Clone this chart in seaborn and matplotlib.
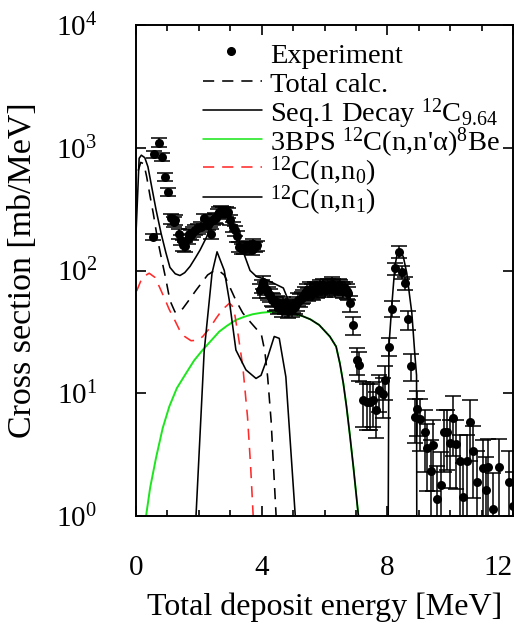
import matplotlib
matplotlib.use("Agg")
import matplotlib.pyplot as plt
import seaborn as sns
import numpy as np
from matplotlib.lines import Line2D
from matplotlib.ticker import NullLocator

# ---------------- measured spectrum (energy in MeV, cross section in mb/MeV) ----------------
exp_e = [
    0.53, 0.58, 0.72, 0.83, 0.93, 1.03,
    1.11, 1.20, 1.24, 1.36, 1.43, 1.49, 1.57, 1.64, 1.70, 1.76,
    1.80, 1.88, 1.96, 2.07, 2.17, 2.28, 2.35, 2.39, 2.44, 2.50,
    2.55, 2.60, 2.65, 2.72, 2.78, 2.85, 2.92, 3.00, 3.08, 3.16,
    3.22, 3.29, 3.37, 3.45, 3.53, 3.61, 3.68, 3.74, 3.79, 3.85,
    3.95, 4.00, 4.05, 4.10, 4.16, 4.21, 4.26, 4.32, 4.37, 4.42,
    4.48, 4.53, 4.58, 4.64, 4.69, 4.74, 4.80, 4.85, 4.90, 4.95,
    5.00, 5.06, 5.11, 5.16, 5.22, 5.27, 5.33, 5.38, 5.43, 5.48,
    5.54, 5.59, 5.64, 5.70, 5.75, 5.80, 5.86, 5.91, 5.96, 6.02,
    6.07, 6.12, 6.18, 6.23, 6.28, 6.34, 6.39, 6.45, 6.50, 6.55,
    6.60, 6.66, 6.71, 6.76, 6.81, 6.90,
    7.02, 7.11, 7.22, 7.34, 7.45, 7.55, 7.64, 7.74, 7.85, 7.92,
    8.06, 8.14, 8.23, 8.38, 8.48, 8.57, 8.67, 8.74,
    8.88, 8.96, 9.05, 9.20, 9.27, 9.38, 9.46, 9.57, 9.70, 9.80,
    9.90, 10.00, 10.10, 10.20, 10.31, 10.42, 10.53, 10.63, 10.74, 10.84,
    11.03, 11.14, 11.22, 11.35, 11.56, 11.88, 11.99,
]
exp_xs = [
    188, 884, 1100, 846, 581, 438,
    266, 250, 258, 198, 177, 161, 157, 180, 200, 195,
    207, 215, 220, 227, 266, 235, 250, 200, 258, 270,
    266, 290, 300, 305, 300, 300, 297, 260, 227, 212,
    190, 156, 150, 151, 160, 157, 148, 165, 156, 160,
    69, 75, 81, 72, 69, 66, 63, 58, 57, 54,
    55, 50, 52, 48, 54, 50, 51, 47, 49, 48,
    52, 50, 54, 58, 57, 60, 62, 66, 69, 64,
    71, 68, 65, 72, 69, 70, 74, 72, 76, 70,
    72, 75, 74, 78, 76, 70, 72, 76, 74, 72,
    69, 72, 68, 65, 54, 36,
    18.7, 17, 8.8, 8.5, 8.5, 8.8, 7.3, 10.6, 9.8, 12.8,
    24, 49, 104, 142, 97, 79, 40, 16.7,
    6.4, 7.5, 6.2, 4.8, 3.6, 2.34, 3.8, 1.37, 1.8, 4.8,
    4.85, 3.9, 6.3, 3.86, 2.8, 1.42, 2.8, 5.8, 3.4, 1.88,
    2.45, 1.63, 2.5, 1.15, 2.5, 1.88, 1.2,
]
exp_err = [
    12, 60, 90, 60, 40, 30,
    25, 24, 25, 19, 17, 16, 15, 17, 19, 19,
    20, 21, 21, 22, 25, 22, 24, 19, 25, 26,
    25, 28, 29, 29, 29, 29, 28, 25, 22, 20,
    18, 15, 14, 14, 15, 15, 14, 16, 15, 15,
    9, 9, 10, 9, 9, 8, 8, 7, 7, 7,
    7, 6, 7, 6, 7, 6, 6, 6, 6, 6,
    7, 6, 7, 7, 7, 7, 8, 8, 9, 8,
    9, 9, 8, 9, 9, 9, 9, 9, 10, 9,
    9, 10, 9, 10, 10, 9, 9, 10, 9, 9,
    9, 9, 9, 8, 8, 6,
    4.5, 4.5, 3.5, 3.5, 3.5, 3.5, 3, 3.5, 3.5, 4,
    4, 7, 12, 15, 11, 10, 7, 4,
    2.5, 3, 2.8, 2.5, 2, 1.8, 2.2, 1.2, 1.5, 2.5,
    2.5, 2.2, 3.2, 2.2, 1.8, 1.3, 1.8, 3, 2, 1.5,
    1.7, 1.4, 1.7, 1.1, 1.7, 1.5, 1.1,
]

# ---------------- calculated components ----------------
# total of the calculation (dashed black)
total_e = [0.07, 0.15, 0.25, 0.34, 0.45, 0.55, 0.69, 0.82, 0.95, 1.08, 1.24, 1.32,
           1.49, 1.70, 1.91, 2.10, 2.28, 2.50, 2.65, 2.81, 3.00, 3.18, 3.40, 3.66,
           3.85, 3.98, 4.10, 4.19, 4.30, 4.46, 4.50]
total_xs = [650, 760, 740, 580, 400, 292, 177, 122, 85, 57, 46, 45,
            49, 58, 69, 80, 92, 100, 99, 92, 72, 57, 45, 37.5,
            33, 31, 22, 13.6, 6, 1.0, 0.7]

# sequential decay through 12C(9.64) (solid black)
seq_e = [0.0, 0.05, 0.10, 0.17, 0.28, 0.38, 0.50, 0.64, 0.80, 0.95, 1.08, 1.25,
         1.40, 1.55, 1.72, 1.90, 2.04, 2.25, 2.36, 2.50, 2.60, 2.85, 2.99, 3.20,
         3.40, 3.63, 3.84, 4.05, 4.37, 4.69, 4.85, 5.00, 5.30, 5.55, 5.83, 6.17,
         6.37, 6.49, 6.60, 6.70, 6.81, 6.92, 7.08, 7.15]
seq_xs = [200, 400, 820, 870, 830, 700, 480, 311, 200, 140, 106, 94,
          91, 96, 108, 128, 147, 188, 227, 280, 300, 300, 258, 200,
          145, 100, 89, 86, 79, 72, 57, 45, 42.5, 40, 36, 29,
          24, 17.5, 12, 7.8, 4.5, 2.5, 1.0, 0.5]

# ground-state peak (solid black)
gs_e = [8.02, 8.05, 8.14, 8.24, 8.31, 8.38, 8.45, 8.51, 8.62, 8.70, 8.78, 8.88, 8.93, 8.94]
gs_xs = [0.3, 24, 51, 108, 135, 142, 138, 129, 95, 65, 45, 20, 14, 0.3]

# three-body phase space 12C(n,n'a)8Be (green)
bps_e = [0.32, 0.45, 0.64, 0.85, 1.06, 1.30, 1.59, 1.85, 2.12, 2.40, 2.65, 2.90,
         3.18, 3.45, 3.71, 4.00, 4.24, 4.50, 4.77, 5.05, 5.30, 5.55, 5.83, 6.17,
         6.37, 6.49, 6.60, 6.70, 6.81, 6.92, 7.08]
bps_xs = [1.0, 1.7, 3.0, 5.2, 7.8, 11, 14.5, 18.5, 22.5, 27, 31.8, 35.5,
          39.5, 42, 44, 45.3, 45.9, 45.8, 45, 44, 42.5, 40, 36, 29,
          24, 17.5, 12, 7.8, 4.5, 2.5, 1.0]

# 12C(n,n0) (red dashed)
n0_e = [0.02, 0.20, 0.42, 0.60, 0.74, 0.90, 1.06, 1.22, 1.38, 1.55, 1.75, 1.95,
        2.12, 2.35, 2.55, 2.75, 2.97, 3.05, 3.13, 3.25, 3.40, 3.55, 3.65, 3.73]
n0_xs = [68, 88, 95, 88, 74, 60, 48, 40, 33, 29, 26.8, 27,
         28.9, 34, 40.8, 48, 54, 52, 46, 30, 16.5, 6.4, 2.5, 1.0]

# 12C(n,n1) (solid black)
n1_e = [1.91, 2.17, 2.42, 2.58, 2.81, 2.97, 3.08, 3.18, 3.50, 3.82, 3.98, 4.20,
        4.40, 4.56, 4.77, 5.07]
n1_xs = [1.0, 22, 95, 142, 100, 57, 35, 22.5, 15.5, 13.2, 14, 20,
         29, 28, 13.6, 1.0]

legend_labels = [
    "Experiment",
    "Total calc.",
    "Seq.1 Decay $^{12}$C$_{9.64}$",
    "3BPS $^{12}$C(n,n'α)$^{8}$Be",
    "$^{12}$C(n,n$_0$)",
    "$^{12}$C(n,n$_1$)",
]
xlabel = "Total deposit energy [MeV]"
ylabel = "Cross section [mb/MeV]"

# ---------------- style ----------------
sns.set_theme(style="ticks")
plt.rcParams.update({
    "font.family": ["Liberation Serif", "DejaVu Serif"],
    "mathtext.fontset": "custom",
    "mathtext.rm": "Liberation Serif",
    "mathtext.it": "Liberation Serif:italic",
    "mathtext.bf": "Liberation Serif:bold",
    "axes.linewidth": 1.4,
    "axes.edgecolor": "black",
    "text.color": "black",
    "axes.labelcolor": "black",
    "xtick.color": "black",
    "ytick.color": "black",
})

W, H = 527, 630
fig = plt.figure(figsize=(W / 100, H / 100), dpi=100)
ax = fig.add_axes([136 / W, 1 - 516 / H, 377 / W, 491 / H])

GREEN = "#1ee61e"
RED = "#ff2a2a"
dash = (0, (7, 5))
LW = 1.15

sns.lineplot(x=bps_e, y=bps_xs, ax=ax, color=GREEN, lw=1.4, sort=False, estimator=None)
sns.lineplot(x=n0_e, y=n0_xs, ax=ax, color=RED, lw=LW, linestyle=dash, sort=False, estimator=None)
sns.lineplot(x=total_e, y=total_xs, ax=ax, color="black", lw=LW, linestyle=dash, sort=False, estimator=None)
sns.lineplot(x=n1_e, y=n1_xs, ax=ax, color="black", lw=LW, sort=False, estimator=None)
sns.lineplot(x=seq_e, y=seq_xs, ax=ax, color="black", lw=LW, sort=False, estimator=None)
sns.lineplot(x=gs_e, y=gs_xs, ax=ax, color="black", lw=LW, sort=False, estimator=None)

ax.errorbar(exp_e, exp_xs, yerr=exp_err, fmt="none", ecolor="black",
            elinewidth=1.1, capsize=6, capthick=1.1)
sns.scatterplot(x=exp_e, y=exp_xs, ax=ax, color="black", s=42, edgecolor="black",
                linewidth=0, zorder=5)

ax.set_yscale("log")
ax.set_xlim(0, 12)
ax.set_ylim(1, 1e4)
ax.set_xticks([0, 4, 8, 12])
ax.set_xticks(np.arange(0, 13, 1), minor=True)
ax.set_yticks([1, 10, 100, 1000, 10000])
ax.yaxis.set_minor_locator(NullLocator())
ax.tick_params(which="both", direction="in", top=True, right=True, color="black", width=1.2)
ax.tick_params(which="major", length=7)
ax.tick_params(which="minor", length=4)
ax.tick_params(axis="x", which="major", labelsize=21, pad=28)
ax.tick_params(axis="y", which="major", labelsize=21, pad=28)
for s in ax.spines.values():
    s.set_visible(True)
    s.set_linewidth(1.4)
fig.canvas.draw()
ax.get_xticklabels()[-1].set_horizontalalignment("right")

ax.set_xlabel(xlabel, fontsize=23)
ax.xaxis.set_label_coords(0.5, -0.155)
ax.set_ylabel(ylabel, fontsize=24.5)
ax.yaxis.set_label_coords(-0.26, 0.5)

# ---------------- key ----------------
def fx(px):
    return px / W

def fy(py):
    return 1 - py / H

text_x = 270
baselines = [63, 92.5, 121.5, 150.5, 179.5, 208.5]
styles = [None,
          dict(color="black", linestyle=dash),
          dict(color="black", linestyle="-"),
          dict(color=GREEN, linestyle="-"),
          dict(color=RED, linestyle=dash),
          dict(color="black", linestyle="-")]
for lab, base, st in zip(legend_labels, baselines, styles):
    yy = base - 12
    if st is None:
        fig.add_artist(Line2D([fx(231)], [fy(yy)], marker="o", markersize=5.5,
                              color="black", transform=fig.transFigure))
    else:
        fig.add_artist(Line2D([fx(203), fx(262)], [fy(yy), fy(yy)], lw=LW,
                              transform=fig.transFigure, **st))
    fig.text(fx(text_x), fy(base), lab, fontsize=20.5, ha="left", va="baseline")

fig.savefig("out.png", dpi=100)
